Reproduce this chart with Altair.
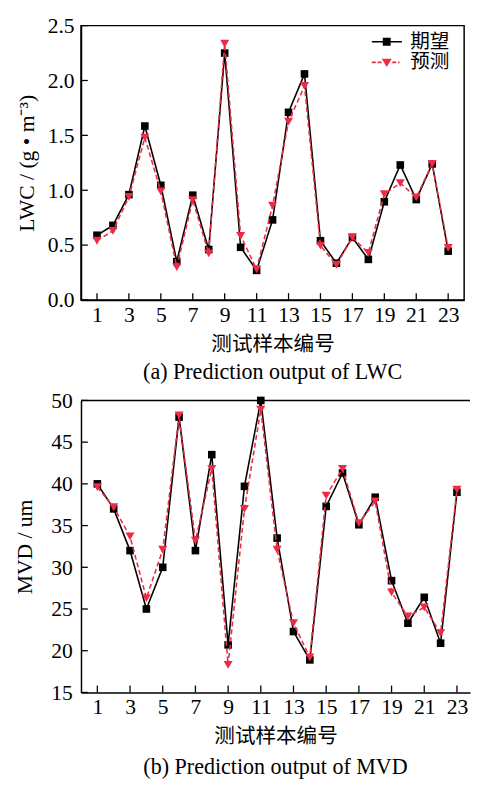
import altair as alt
import pandas as pd

samples = list(range(1, 24))
series_names = ["期望", "预测"]
series_colors = ["#000000", "#ee2b47"]

lwc_expected = [0.59, 0.68, 0.96, 1.585, 1.045, 0.35, 0.955, 0.46, 2.25, 0.48, 0.27, 0.73,
                1.71, 2.06, 0.54, 0.335, 0.57, 0.37, 0.895, 1.23, 0.915, 1.24, 0.445]
lwc_predicted = [0.54, 0.63, 0.94, 1.48, 0.99, 0.30, 0.91, 0.425, 2.335, 0.585, 0.28, 0.86,
                 1.625, 1.95, 0.495, 0.32, 0.57, 0.43, 0.965, 1.065, 0.935, 1.24, 0.475]
mvd_expected = [40.0, 37.0, 32.0, 25.0, 30.0, 48.0, 32.0, 43.5, 20.7, 39.7, 50.0, 33.5,
                22.3, 18.9, 37.3, 41.3, 35.1, 38.4, 28.4, 23.3, 26.4, 20.9, 39.0]
mvd_predicted = [39.6, 37.2, 33.7, 26.3, 32.1, 48.2, 33.2, 41.8, 18.3, 37.0, 48.9, 32.1,
                 23.3, 19.2, 38.6, 41.8, 35.3, 37.9, 27.0, 24.1, 25.2, 22.1, 39.3]

x_ticks = list(range(1, 24, 2))
lwc_ticks = [0.0, 0.5, 1.0, 1.5, 2.0, 2.5]
mvd_ticks = [15, 20, 25, 30, 35, 40, 45, 50]

SERIF = "Liberation Serif"
CJK = "Noto Sans CJK SC"

# legend symbols: line + marker, in unit coordinates
LEGEND_PATHS = [
    "M-1,-0.05H1V0.05H-1Z M-0.26,-0.26H0.26V0.26H-0.26Z",
    "M-1,-0.05H-0.72V0.05H-1Z M-0.6,-0.05H-0.34V0.05H-0.6Z M-0.33,-0.24H0.33L0,0.3Z "
    "M0.36,-0.05H0.62V0.05H0.36Z M0.74,-0.05H0.84V0.05H0.74Z",
]


def panel(expected, predicted, y_domain, y_ticks, y_format, y_title, x_max, width, height,
          caption, legend_x, legend_y, label_offset, row_padding, open_right,
          y_label_pad, y_title_pad, x_title_pad, caption_offset):
    n = len(samples)
    df = pd.DataFrame({
        "sample": samples + samples,
        "value": expected + predicted,
        "series": [series_names[0]] * n + [series_names[1]] * n,
    })
    x_scale = alt.Scale(domain=[0, x_max], nice=False, zero=False)
    y_scale = alt.Scale(domain=y_domain, nice=False, zero=False)
    x_axis = alt.Axis(values=x_ticks, format="d", title="测试样本编号",
                      titleFont=CJK, titleFontSize=21, titleFontWeight="normal",
                      titlePadding=x_title_pad, labelPadding=5, ticks=False, grid=False,
                      labelFlush=False, labelOverlap=False, labelFont=SERIF, labelFontSize=22)
    y_axis = alt.Axis(values=y_ticks, format=y_format, title=y_title,
                      titleFont=SERIF, titleFontSize=22, titleFontWeight="normal",
                      titlePadding=y_title_pad, labelPadding=y_label_pad, ticks=False, grid=False,
                      labelFlush=False, labelOverlap=False, labelFont=SERIF, labelFontSize=22)
    x_enc = alt.X("sample:Q", scale=x_scale, axis=x_axis)
    y_enc = alt.Y("value:Q", scale=y_scale, axis=y_axis)
    base = alt.Chart(df).encode(x=x_enc, y=y_enc)
    exp = base.transform_filter(alt.datum.series == series_names[0])
    pred = base.transform_filter(alt.datum.series == series_names[1])
    exp_line = exp.mark_line(color=series_colors[0], strokeWidth=1.6)
    exp_pts = exp.mark_point(shape="square", filled=True, size=60, color=series_colors[0], opacity=1)
    pred_line = pred.mark_line(color=series_colors[1], strokeWidth=1.6, strokeDash=[5, 3])
    pred_pts = pred.mark_point(shape="triangle-down", filled=True, size=85,
                               color=series_colors[1], opacity=1)

    leg = alt.Legend(title=None, orient="none", legendX=legend_x, legendY=legend_y,
                     symbolSize=961, clipHeight=21, labelFont=CJK, labelFontSize=20,
                     labelColor="black", labelOffset=label_offset, rowPadding=row_padding,
                     padding=0, symbolStrokeWidth=0)
    legend_layer = alt.Chart(df).transform_filter("false").mark_point(filled=True, opacity=1).encode(
        color=alt.Color("series:N", scale=alt.Scale(domain=series_names, range=series_colors), legend=leg),
        shape=alt.Shape("series:N", scale=alt.Scale(domain=series_names, range=LEGEND_PATHS), legend=leg),
    )

    # inward tick marks
    x_tick_layer = alt.Chart(pd.DataFrame({"sample": x_ticks})).mark_rule(
        color="black", strokeWidth=1.3).encode(
        x=alt.X("sample:Q", scale=x_scale, axis=x_axis),
        y=alt.value(height), y2=alt.value(height - 7))
    y_tick_layer = alt.Chart(pd.DataFrame({"value": y_ticks})).mark_rule(
        color="black", strokeWidth=1.3).encode(
        y=alt.Y("value:Q", scale=y_scale, axis=y_axis),
        x=alt.value(0), x2=alt.value(7))

    layers = [exp_line, exp_pts, pred_line, pred_pts, x_tick_layer, y_tick_layer, legend_layer]
    if open_right:
        # frame top edge (the right edge is cut off in the original)
        layers.append(alt.Chart(pd.DataFrame({"value": [y_domain[1]]})).mark_rule(
            color="black", strokeWidth=1.5).encode(
            y=alt.Y("value:Q", scale=y_scale, axis=y_axis),
            x=alt.value(0), x2=alt.value(width)))

    chart = alt.layer(*layers).properties(
        width=width, height=height,
        title=alt.TitleParams(caption, orient="bottom", font=SERIF, fontSize=22.5,
                              fontWeight="normal", color="black", offset=caption_offset),
    )
    if open_right:
        chart = chart.properties(view=alt.ViewBackground(stroke=None))
    return chart


top = panel(lwc_expected, lwc_predicted, [0, 2.5], lwc_ticks, ".1f", "LWC / (g • m⁻³)",
            24, 391, 280, "(a) Prediction output of LWC", 296.5, 6, 8.5, 0, False,
            7, 9, 9, 7)
bottom = panel(mvd_expected, mvd_predicted, [15, 50], mvd_ticks, "d", "MVD / um",
               23.8, 397, 298, "(b) Prediction output of MVD", 307.5, 3, 9.5, 2, True,
               9, 14.5, 8, 10)

chart = alt.vconcat(top, bottom, spacing=4.5).properties(
    padding={"left": 5.5, "top": -2, "right": 0, "bottom": 0}
).configure_view(stroke="black", strokeWidth=1.5).configure_axis(
    domainColor="black", domainWidth=1.5, labelColor="black", titleColor="black"
)

chart.save("out.html", embed_options={"renderer": "svg", "actions": False})
